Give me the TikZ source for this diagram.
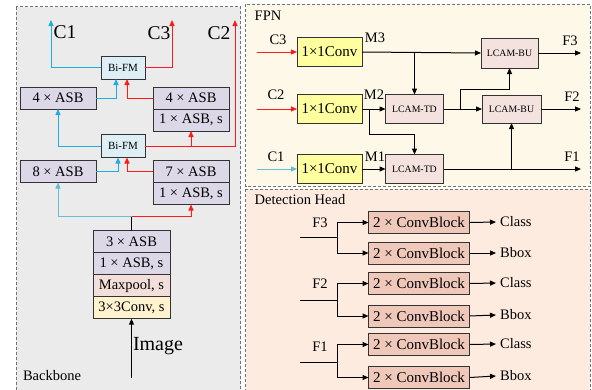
\documentclass[tikz,border=0pt]{standalone}
\usepackage{fontspec}
\setmainfont{Liberation Serif}
\usepackage{tikz}
\usetikzlibrary{arrows.meta, positioning, calc}

\definecolor{bbgray}{RGB}{235,235,235}
\definecolor{fpnbg}{RGB}{254,248,232}
\definecolor{headbg}{RGB}{253,235,224}
\definecolor{asbfill}{RGB}{221,216,231}
\definecolor{fmfill}{RGB}{221,239,244}
\definecolor{poolfill}{RGB}{242,222,218}
\definecolor{convfill}{RGB}{255,242,206}
\definecolor{onefill}{RGB}{255,255,160}
\definecolor{lcamfill}{RGB}{243,226,222}
\definecolor{cbfill}{RGB}{240,200,186}
\definecolor{cblue}{RGB}{30,172,228}
\definecolor{lblue}{RGB}{100,190,212}
\definecolor{cred}{RGB}{255,25,25}

\begin{document}
\begin{tikzpicture}[
	x=1pt, y=-1pt,
	>={Triangle[length=6pt,width=5pt]},
	panel/.style={draw=black!55, dash pattern=on 3pt off 2pt, line width=0.7pt},
	box/.style={draw=black!80, line width=0.8pt, inner sep=0pt, outer sep=0pt, align=center},
	asb/.style={box, fill=asbfill, minimum width=76, minimum height=22, font=\fontsize{14.5}{16}\selectfont},
	fm/.style={box, fill=fmfill, minimum width=44, minimum height=23, font=\fontsize{11}{12}\selectfont},
	onebox/.style={box, fill=onefill, minimum width=65, minimum height=28.5, font=\fontsize{15}{16}\selectfont},
	lcam/.style={box, fill=lcamfill, minimum width=58, minimum height=29, font=\fontsize{9.8}{11}\selectfont},
	cblock/.style={box, fill=cbfill, minimum width=101, minimum height=22, font=\fontsize{15}{16}\selectfont},
	lbl/.style={inner sep=0pt, font=\fontsize{14.5}{16}\selectfont},
	big/.style={inner sep=0pt, font=\fontsize{19.5}{21}\selectfont},
	line/.style={line width=1pt}
]
\useasboundingbox (0,0) rectangle (592,389);

% panels
\fill[bbgray] (16,6.5) rectangle (240.7,393);
\draw[panel] (16,6.5) rectangle (240.7,393);
\fill[fpnbg] (245.5,4) rectangle (590,186.5);
\draw[panel] (245.5,4) rectangle (590,186.5);
\fill[headbg] (245.5,189) rectangle (590,393);
\draw[panel] (245.5,189) rectangle (590,393);

%% Backbone
\node[big] (cOne) at (65,32) {C1};
\node[big] (cThree) at (159,33) {C3};
\node[big] (cTwo) at (219,33) {C2};
\coordinate (tipOne) at (51,20);
\coordinate (tipThree) at (172,20);
\coordinate (tipTwo) at (235,20);

\node[fm] (fmA) at (123,67.5) {Bi-FM};
\node[fm] (fmB) at (123,146) {Bi-FM};

\node[asb] (asbA) at (58,98) {4 × ASB};
\node[asb] (asbB) at (191,98) {4 × ASB};
\node[asb, below=0pt of asbB] (asbBs) {1 × ASB, s};
\node[asb] (asbC) at (58,171.5) {8 × ASB};
\node[asb] (asbD) at (191,171.5) {7 × ASB};
\node[asb, below=0pt of asbD] (asbDs) {1 × ASB, s};

\node[asb, minimum width=77] (stA) at (131.5,241.7) {3 × ASB};
\node[asb, minimum width=77, below=0pt of stA] (stB) {1 × ASB, s};
\node[asb, minimum width=77, fill=poolfill, below=0pt of stB] (stC) {Maxpool, s};
\node[asb, minimum width=77, fill=convfill, below=0pt of stC] (stD) {3×3Conv, s};

\coordinate (imgIn) at (131.5,378);
\node[big, font=\fontsize{20}{22}\selectfont] (imgLbl) at (158,346) {Image};
\node[lbl] (bbLbl) at (52,376) {Backbone};

\draw[->, line, cblue] (fmA.west) -| (tipOne);
\draw[->, line, cred] (fmA.east) -| (tipThree);
\draw[->, line, cred] (fmB.east) -| (tipTwo);
\draw[->, line, cred] (asbBs.south |- fmB.east) -- (asbBs.south);
\draw[->, line, cblue] (fmB.west) -| (asbA.south);
\draw[->, line, cblue] (asbA.east) -| ([xshift=-7pt]fmA.south);
\draw[->, line, cred] (asbB.west) -| ([xshift=4pt]fmA.south);
\draw[->, line, cblue] (asbC.east) -| ([xshift=-5pt]fmB.south);
\draw[->, line, cred] (asbD.west) -| ([xshift=4pt]fmB.south);

\coordinate (split) at ($(stA.north)+(0,-14)$);
\draw[line] (stA.north) -- (split);
\draw[->, line, lblue] (split) -| (asbC.south);
\draw[->, line, cred] (split) -| (asbDs.south);
\draw[->, line] (imgIn) -- (stD.south);

%% FPN
\node[lbl] (fpnLbl) at (268,16) {FPN};
\node[onebox] (convA) at (329.5,52) {1×1Conv};
\node[onebox] (convB) at (329.5,109) {1×1Conv};
\node[onebox] (convC) at (329.5,169) {1×1Conv};
\node[lcam] (tdA) at (414.5,109) {LCAM-TD};
\node[lcam] (tdB) at (414.5,169) {LCAM-TD};
\node[lcam, minimum width=57, minimum height=30] (buA) at (509.5,53) {LCAM-BU};
\node[lcam, minimum width=59, minimum height=28] (buB) at (511.5,109) {LCAM-BU};

\node[lbl] (inLblThree) at (278,40) {C3};
\node[lbl] (inLblTwo) at (276,95) {C2};
\node[lbl] (inLblOne) at (276,157) {C1};
\node[lbl] (mThree) at (375,38) {M3};
\node[lbl] (mTwo) at (374,95) {M2};
\node[lbl] (mOne) at (375,157) {M1};
\node[lbl] (fThreeOut) at (570,41) {F3};
\node[lbl] (fTwoOut) at (572,97) {F2};
\node[lbl] (fOneOut) at (572,157) {F1};

\coordinate (inThree) at (257,52);
\coordinate (inTwo) at (257,109);
\coordinate (inOne) at (257,169);
\coordinate (outThree) at (581,53);
\coordinate (outTwo) at (581,109);
\coordinate (outOne) at (581,169);

\draw[->, line, cred] (inThree) -- (convA.west);
\draw[->, line, cred] (inTwo) -- (convB.west);
\draw[->, line, lblue] (inOne) -- (convC.west);

\draw[->, line] (convA.east) -- (buA.west);
\draw[->, line] (convA.east -| tdA.north) -- (tdA.north);
\draw[->, line] (convB.east) -- (tdA.west);
\draw[->, line] ([xshift=7pt]convB.east) -- ++(0,25.5) -| (tdB.north);
\draw[->, line] (convC.east) -- (tdB.west);
\draw[->, line] (tdA.east) -- (buB.west);
\draw[->, line] ([xshift=17pt]tdA.east) -- ++(0,-20) -| (buA.south);
\draw[->, line] (buA.east) -- (outThree);
\draw[->, line] (buB.east) -- (outTwo);
\draw[->, line] (tdB.east) -- (outOne);
\draw[->, line] (tdB.east -| buB.south) -- (buB.south);

%% Detection Head
\node[lbl] (headLbl) at (300,200) {Detection Head};

\node[cblock] (cbA) at (419,222.5) {2 × ConvBlock};
\node[cblock] (cbB) at (419,253) {2 × ConvBlock};
\node[cblock] (cbC) at (419,283.5) {2 × ConvBlock};
\node[cblock] (cbD) at (419,316) {2 × ConvBlock};
\node[cblock] (cbE) at (419,344.5) {2 × ConvBlock};
\node[cblock] (cbF) at (419,377.5) {2 × ConvBlock};

\node[lbl, anchor=west] (clsA) at (500,222) {Class};
\node[lbl, anchor=west] (boxA) at (500,253) {Bbox};
\node[lbl, anchor=west] (clsB) at (500,283) {Class};
\node[lbl, anchor=west] (boxB) at (500,315) {Bbox};
\node[lbl, anchor=west] (clsC) at (500,344) {Class};
\node[lbl, anchor=west] (boxC) at (500,376) {Bbox};

\node[lbl] (fThree) at (320,223) {F3};
\node[lbl] (fTwo) at (320,284) {F2};
\node[lbl] (fOne) at (320,347) {F1};

\coordinate (hA) at (300,237);
\coordinate (jA) at (337,237);
\coordinate (hB) at (300,300);
\coordinate (jB) at (337,300);
\coordinate (hC) at (300,362);
\coordinate (jC) at (337,362);

\draw[line] (hA) -- (jA);
\draw[->, line] (jA) |- (cbA.west);
\draw[->, line] (jA) |- (cbB.west);
\draw[line] (hB) -- (jB);
\draw[->, line] (jB) |- (cbC.west);
\draw[->, line] (jB) |- (cbD.west);
\draw[line] (hC) -- (jC);
\draw[->, line] (jC) |- (cbE.west);
\draw[->, line] (jC) |- (cbF.west);

\draw[->, line] (cbA.east) -- ([xshift=-4pt]clsA.west);
\draw[->, line] (cbB.east) -- ([xshift=-4pt]boxA.west);
\draw[->, line] (cbC.east) -- ([xshift=-4pt]clsB.west);
\draw[->, line] (cbD.east) -- ([xshift=-4pt]boxB.west);
\draw[->, line] (cbE.east) -- ([xshift=-4pt]clsC.west);
\draw[->, line] (cbF.east) -- ([xshift=-4pt]boxC.west);
\end{tikzpicture}
\end{document}
